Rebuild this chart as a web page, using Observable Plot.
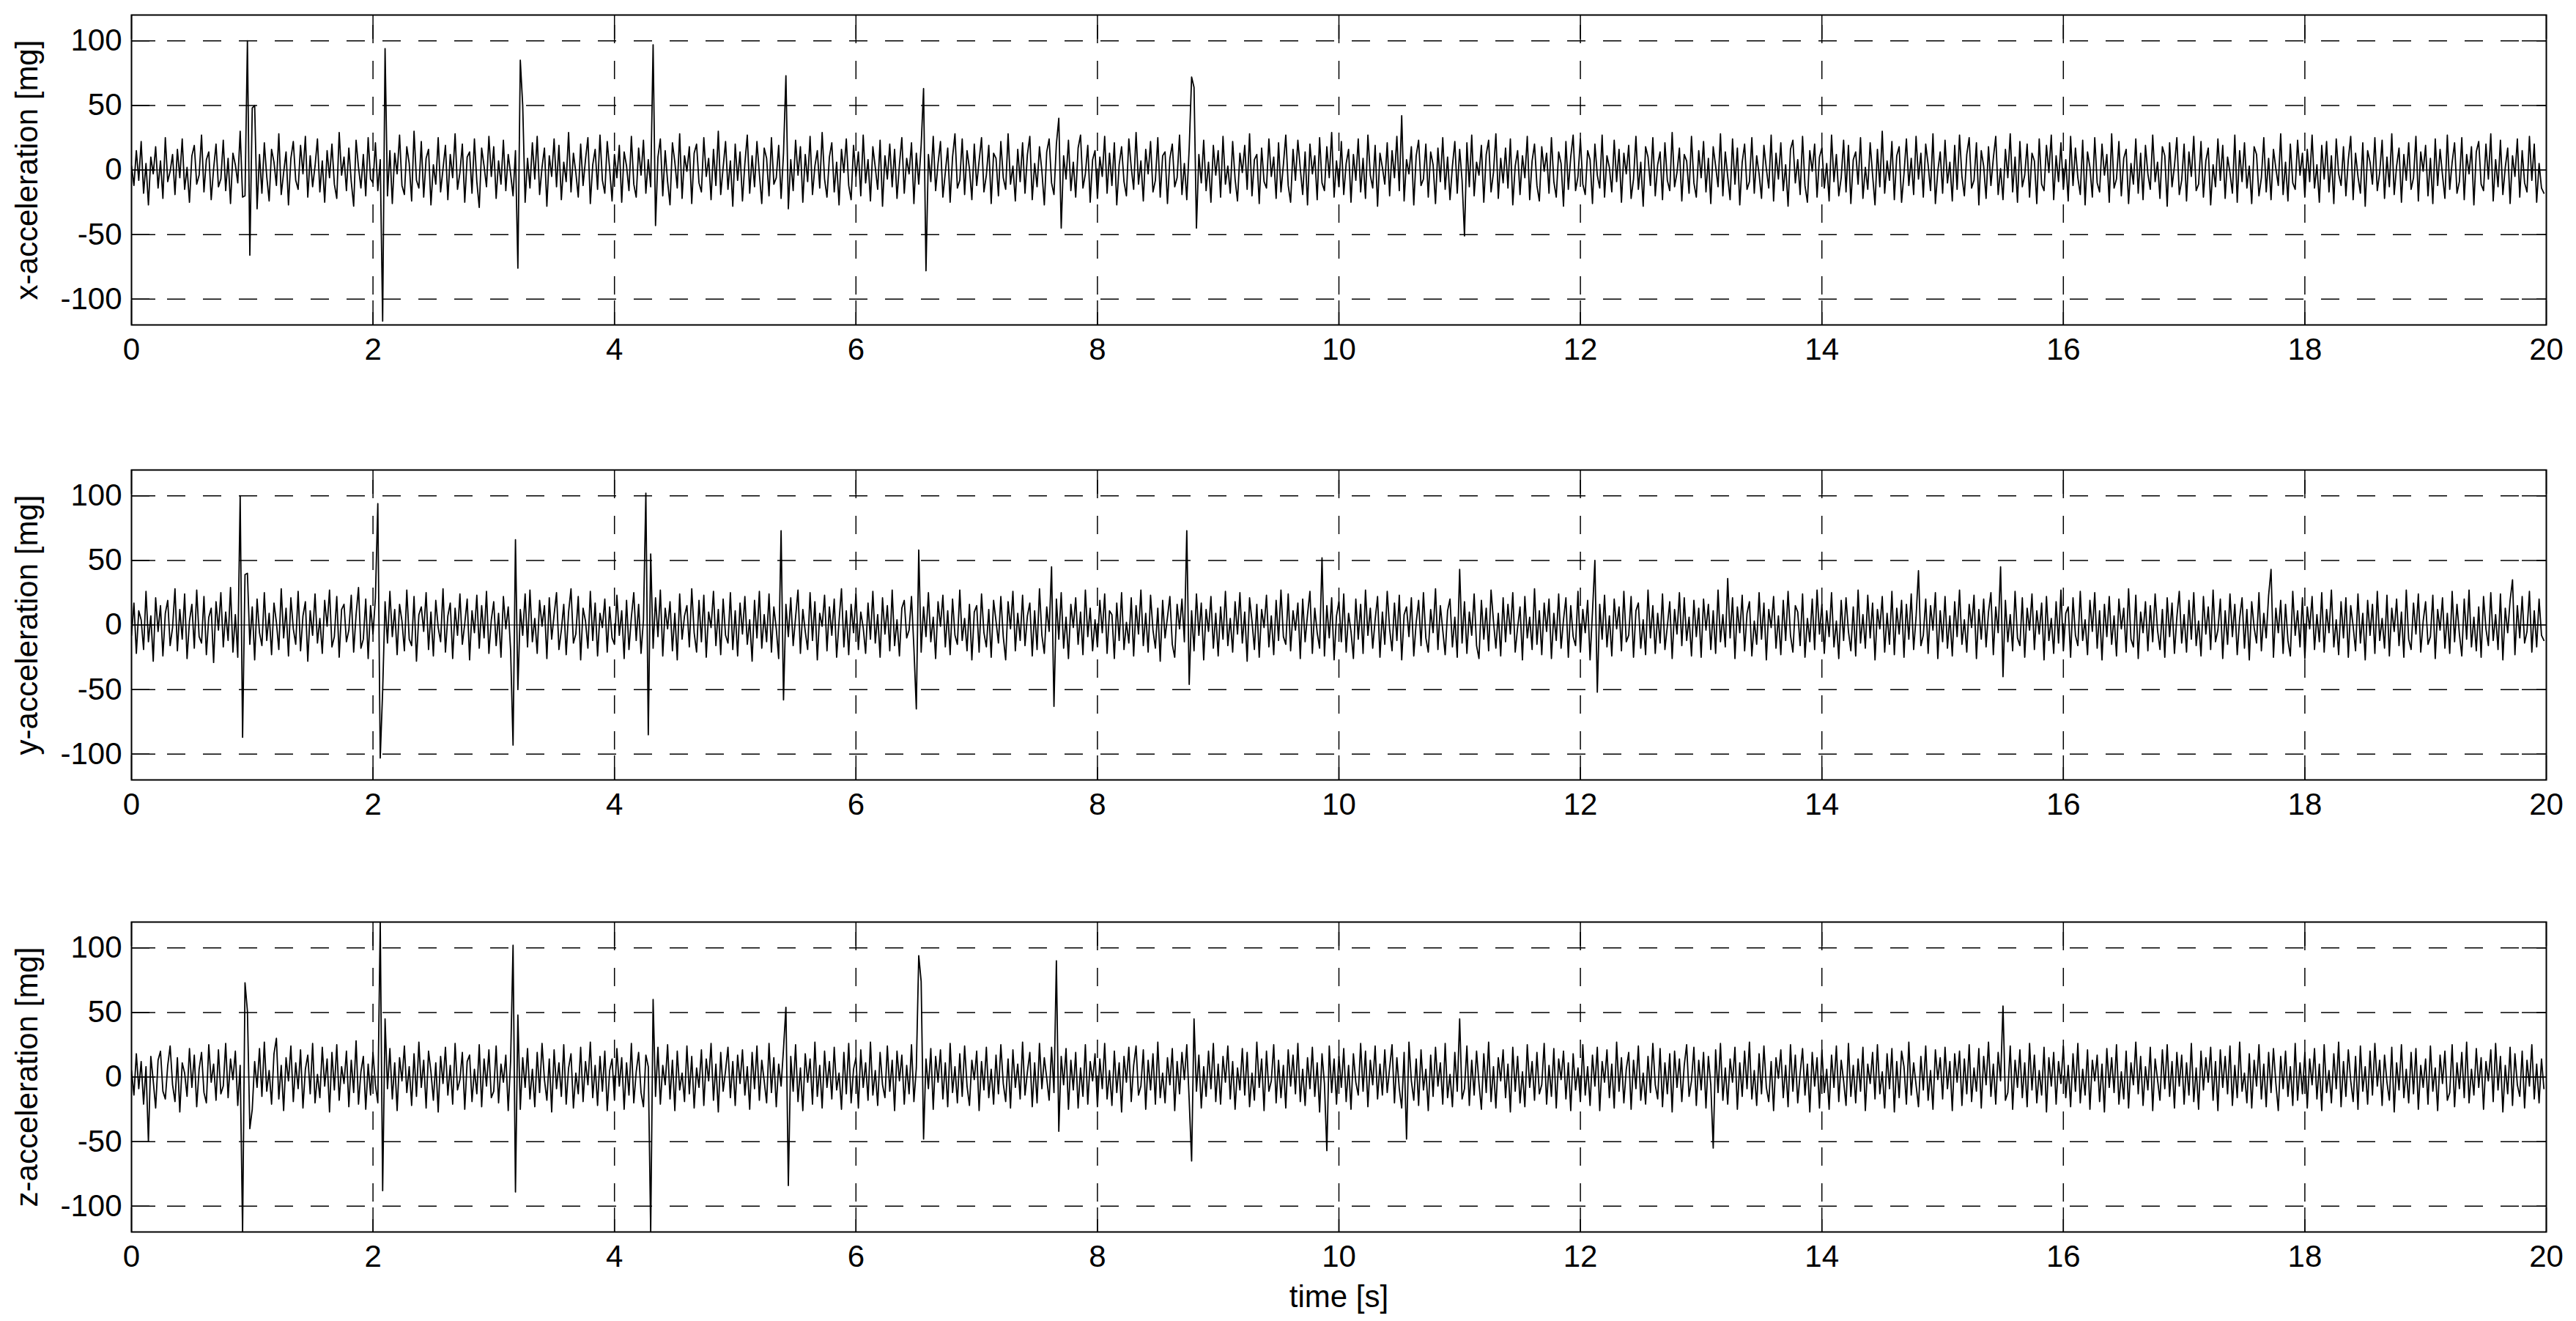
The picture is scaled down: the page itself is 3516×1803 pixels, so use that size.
<!DOCTYPE html>
<html>
<head>
<meta charset="utf-8">
<script src="https://cdn.jsdelivr.net/npm/d3@7"></script>
<script src="https://cdn.jsdelivr.net/npm/@observablehq/plot@0.6"></script>
<style>
  html, body { margin: 0; padding: 0; background: #fff; }
  #chart { position: relative; width: 3516px; height: 1803px; background: #fff; }
</style>
</head>
<body>
<div id="chart"></div>
<script>
// ---- data (50 samples per second over 20 s) ----
const duration = 20;
const timeTicks = [0, 2, 4, 6, 8, 10, 12, 14, 16, 18, 20];
const timeGrid = [2, 4, 6, 8, 10, 12, 14, 16, 18];
const accTicks = [-100, -50, 0, 50, 100];
const accGrid = [-100, -50, 50, 100];
const panelLabels = ["x-acceleration [mg]", "y-acceleration [mg]", "z-acceleration [mg]"];
const timeLabel = "time [s]";

const xAcc = [
3,-12,15,-8,22,-18,5,-27,10,-3,18,-14,7,-22,25,-9,-1,12,-19,16,-6,24,-15,2,-25,11,19,-11,-4,27,-17,8,14,-23,1,20,-13,-7,23,-16,9,-26,13,4,-10,30,-21,-20,100,-66,
48,50,-30,12,-18,21,-5,-24,16,6,-12,28,-19,-2,14,-27,9,22,-8,-15,19,-3,26,-21,11,-13,3,24,-17,7,-25,15,-6,20,-11,-22,29,-4,10,-16,17,-9,-28,23,2,-14,12,-20,25,-7,
-10,21,-16,8,-117,94,-20,15,-26,13,-3,27,-12,-19,18,5,-24,30,-8,-14,22,-21,9,16,-27,4,-11,25,-17,1,19,-23,12,-6,28,-15,-2,20,-25,10,14,-18,24,-9,-29,17,3,-13,26,-5,
18,-22,7,-11,23,-16,12,-3,-20,15,-76,85,50,-25,9,-14,21,-7,26,-19,2,17,-28,11,-5,24,-13,19,-23,6,-9,29,-17,13,-2,-21,20,-12,8,25,-26,4,16,-15,27,-8,-18,22,1,-24,
12,-6,19,-25,14,3,-16,26,-11,-21,17,-4,23,-18,8,-13,97,-43,10,24,-20,15,-9,-27,21,6,-14,28,-22,11,-1,18,-26,13,20,-10,-17,25,-5,9,-23,16,-12,30,-19,2,22,-15,7,-28,
20,-8,14,-24,5,27,-18,11,-13,22,-3,-26,17,9,-20,25,-11,-6,19,-22,13,73,-30,8,-16,23,-4,18,-25,12,-9,26,-19,3,15,-14,29,-7,-21,10,21,-17,6,-27,16,-2,24,-12,-23,19,
-5,14,-20,27,-10,8,-24,18,2,-15,23,-28,11,-7,20,-13,16,-22,4,25,-18,9,-3,21,-26,13,-11,19,63,-78,12,-9,26,-16,5,22,-21,-2,17,-25,10,28,-14,-8,24,-19,15,1,-23,20,
-12,7,25,-17,-4,19,-26,13,9,-20,22,-6,-15,28,-11,3,-24,16,-9,21,-18,12,26,-23,5,-13,18,-1,-27,14,24,-10,-19,20,40,-45,11,-7,23,-16,6,-21,17,27,-14,-3,19,-25,8,15,
-22,10,-5,26,-18,13,-12,21,-27,4,18,-9,-20,24,2,-15,29,-11,7,-24,16,-3,22,-17,-8,25,-21,11,14,-26,9,20,-13,-6,27,-19,5,-23,17,72,64,-45,12,-10,23,-16,6,-25,19,-4,
15,-21,26,-11,3,-18,22,-7,-24,13,-2,19,-15,28,-20,8,12,-26,17,-9,-14,24,-5,10,-22,21,-17,4,27,-12,-25,16,-8,23,1,-19,14,-27,20,-3,11,-23,25,-10,-16,18,-6,29,-21,7,
-13,22,-19,5,16,-25,12,-8,24,-17,9,-22,27,-4,-14,19,-28,13,2,-11,21,-20,15,-6,26,-16,42,-24,8,-3,18,-27,11,23,-12,-7,20,-21,14,4,-26,17,-9,25,-15,10,-23,3,22,-18,
16,-8,-51,21,-13,27,-20,6,-4,19,-25,12,23,-17,-2,28,-22,9,-10,17,-14,24,-27,3,15,-19,11,-6,26,-23,7,20,-12,-24,18,-1,13,-18,25,-9,-21,14,5,-28,22,-15,10,27,-16,-5,
24,-11,-19,15,8,-26,20,-4,-14,27,-21,11,2,-17,23,-9,16,-25,13,-3,19,-22,-7,26,-15,6,-28,18,10,-12,25,-20,4,14,-23,21,-8,-16,29,-13,-2,17,-24,12,7,-18,26,-10,-21,15,
-6,22,-17,9,-26,18,3,-13,28,-20,14,-5,-23,24,-11,17,-27,6,20,-15,-9,25,-18,11,-3,-22,19,1,-14,27,-24,13,-7,21,-16,4,-28,16,23,-10,8,-19,26,-12,-25,15,-1,20,-21,10,
17,-14,5,-24,27,-9,12,-20,-6,23,-17,19,-26,8,14,-11,25,-22,2,-15,21,-4,-27,16,-13,30,-18,7,-8,22,-23,11,18,-25,-3,24,-12,9,-19,26,-7,13,-21,20,4,-16,28,-26,-1,14,
-18,23,-10,6,-24,19,-15,27,-5,-20,12,25,-14,-8,21,-27,15,3,-22,18,-12,9,26,-19,1,-23,16,-6,28,-17,10,-25,22,-13,-4,20,-21,13,7,-26,24,-11,-16,19,-2,27,-23,11,-9,21,
-15,8,-24,26,-12,17,-6,-19,23,-27,14,2,-21,25,-10,-17,20,-4,12,-25,28,-14,-7,22,-20,9,16,-26,5,-11,24,-18,13,-23,19,-3,-15,27,-9,6,-22,18,11,-28,21,-13,3,25,-19,-8,
20,-24,14,-5,26,-16,-11,22,-21,7,17,-27,4,-13,24,-8,19,-22,10,-2,-18,27,-25,15,-9,21,-14,3,-26,18,12,-20,-6,25,-17,9,-23,16,1,-12,28,-19,6,-24,20,-10,-15,23,-4,13,
-21,16,-9,27,-14,4,-25,19,-7,22,-17,11,-26,24,-3,-12,18,-20,8,26,-23,13,-5,-18,21,-28,15,6,-11,25,-16,-2,23,-22,10,-13,28,-19,3,17,-25,12,-8,21,-15,-6,26,-24,14,-1,
19,-20,9,-26,24,-12,16,-4,-22,27,-15,6,21,-18,-9,25,-23,12,-3,18,-27,14,22,-11,-16,20,-7,28,-24,8,-13,23,-19,2,17,-26,11,-5,24,-21,15,-10,-17,26,-8,20,-25,5,-14,-18
];

const yAcc = [
-8,17,-22,11,4,-19,26,-13,7,-28,21,-5,15,-24,9,19,-16,-2,28,-20,12,-11,24,-26,3,16,-18,27,-9,-14,22,-23,6,13,-29,18,-4,25,-17,10,-12,29,-21,8,-25,100,-87,39,40,-15,
14,-27,20,-6,-16,25,-12,9,-23,17,2,-19,28,-10,13,-24,21,-3,-15,26,-20,7,18,-28,11,-8,24,-14,5,-22,19,-1,27,-17,-9,22,-25,12,16,-13,-4,23,-21,8,29,-18,-11,20,-26,15,
-7,21,94,-103,-51,18,-14,26,-9,12,-23,16,3,-20,27,-11,-16,22,-28,8,14,-5,25,-19,10,-24,19,-2,-13,28,-21,7,17,-26,13,-8,24,-15,1,20,-27,11,-6,23,-18,15,-10,26,-22,4,
18,-16,9,-25,22,-3,14,-20,-93,66,-50,12,-8,24,-17,27,-13,5,-22,19,-1,15,-26,21,-11,8,25,-19,-4,16,-23,10,28,-14,-7,22,-27,13,3,-18,26,-12,17,-24,9,-2,20,-21,14,-10,
-15,23,-8,11,-26,19,-19,6,25,-12,16,-22,4,102,-85,55,-18,21,-9,27,-24,13,-3,18,-20,9,-27,24,-11,7,15,-17,28,-6,-21,19,-13,23,-25,10,-2,26,-16,12,-23,20,-8,-14,25,-19,
11,-24,17,-7,22,-15,4,-28,19,-10,26,-18,8,-13,24,-21,14,-3,-26,73,-58,16,-9,21,-16,6,27,-22,12,-5,-19,25,-12,18,-27,9,-1,23,-20,14,-8,20,-25,3,28,-17,11,-23,16,-6,
24,-19,10,-2,-22,17,-11,26,-14,8,-25,21,-7,15,-20,27,-16,4,-24,13,19,-10,-4,22,-18,-65,58,-21,14,-9,25,-13,6,-26,18,-1,23,-17,11,-23,20,-8,-15,27,-12,5,-20,16,-27,10,
15,-21,24,-6,-17,12,-25,19,3,-14,22,-9,-27,18,-3,26,-20,9,-12,23,-16,7,17,-24,11,-19,28,-8,-22,14,-5,45,-63,20,-11,25,-18,6,-26,16,-2,21,-15,10,-23,27,-9,13,-20,4,
-17,19,-6,24,-22,11,8,-26,17,-12,25,-19,2,-14,21,-24,15,-7,27,-16,9,-21,23,-4,-18,13,-28,19,-10,6,22,-15,-25,16,-3,20,-13,73,-46,11,-20,24,-8,17,-27,12,-5,22,-18,9,
-24,14,-11,26,-16,5,-21,18,-7,25,-14,10,-28,21,3,-19,16,-25,12,-2,23,-17,7,-23,19,-12,27,-9,-15,24,-20,11,-4,17,-26,20,-13,8,26,-22,13,-6,-18,52,-24,15,-10,21,-27,7,
18,-13,24,-21,9,-5,-26,20,-11,16,-22,27,-8,13,-18,4,22,-25,10,-15,26,-3,-20,17,-12,23,-27,8,14,-9,21,-24,2,19,-16,25,-10,-21,12,-6,28,-19,15,-4,-23,11,20,-17,6,-25,
43,-14,18,-22,10,-8,24,-16,-26,19,-11,13,-20,27,3,-18,9,-24,21,-13,16,-7,25,-21,-2,14,-27,22,-10,6,-19,28,-15,11,-23,17,-5,20,-26,9,-12,24,-18,4,21,-25,15,-9,-16,26,
-21,12,-6,19,-27,10,50,-52,16,-11,23,-17,7,-24,20,-3,14,-20,26,-13,-8,22,-25,11,17,-18,4,-23,27,-10,15,-22,9,-14,24,-19,-1,18,-26,12,-7,25,-16,21,-12,6,-24,19,-9,13,
-25,20,-4,16,-19,11,-22,27,-13,8,-17,36,-10,21,-26,14,-6,23,-20,9,18,-24,3,-15,25,-11,17,-27,12,-2,22,-18,7,-23,19,-12,26,-8,-21,15,10,-16,24,-25,5,-13,20,-19,27,-7,
16,-22,11,-9,25,-17,3,-26,19,-12,21,-5,-20,14,-24,27,-14,8,-18,23,-10,17,-27,12,-3,22,-21,9,-15,26,-23,13,-7,19,-25,16,-11,24,-19,6,42,-16,-8,20,-22,15,-4,25,-26,11,
-13,22,-18,7,-24,18,-9,27,-15,4,-21,16,-2,23,-26,12,-11,20,-17,10,25,-23,14,-6,45,-40,19,-13,8,-20,26,-10,-16,21,-25,13,-4,24,-19,11,-7,17,-27,22,-12,5,-22,18,-14,27,
-20,9,14,-25,21,-8,-16,26,-12,4,-23,19,-5,25,-18,11,-27,16,-9,22,-15,7,-24,20,-3,13,-21,28,-11,-17,23,-26,10,-6,18,-20,15,-13,24,-4,-19,12,-25,21,-9,17,-22,6,26,-14,
8,-21,19,-11,25,-16,3,-24,22,-7,14,-19,27,-13,-4,20,-26,11,-15,24,-9,16,-23,5,21,-18,12,-27,18,-2,-14,25,-20,9,-10,23,43,-25,13,-6,19,-22,16,-12,-24,26,-8,11,-17,21,
-26,14,-3,22,-19,8,-13,25,-21,12,-6,27,-17,4,-23,18,-10,21,-25,15,-1,-20,24,-14,9,-27,19,-8,16,-22,26,-12,5,-18,23,-24,13,-5,20,-16,10,-25,27,-11,-19,17,-7,24,-21,3,
18,-15,-9,23,-26,12,-4,21,-18,9,-22,26,-13,16,-7,-24,20,-11,27,-17,6,-20,14,-25,22,-3,-16,25,-12,8,-19,24,-27,13,-6,19,35,-23,15,-10,22,-14,-5,26,-21,11,-17,20,-8,-12
];

const zAcc = [
5,-14,18,-9,12,-21,8,-50,16,-3,-24,13,20,-11,-17,9,24,-6,-19,15,-27,11,3,-15,22,-8,17,-23,6,19,-12,-20,25,-4,10,-18,21,-13,-7,26,-16,14,-2,20,-22,9,-120,73,51,-40,
-25,12,-8,22,-15,27,-11,5,-21,18,30,-17,9,-26,15,-3,24,-19,11,-9,21,-24,6,17,-13,26,-20,2,-16,23,-7,14,-27,19,-10,25,-18,8,-5,20,-23,13,-12,28,-21,4,16,-25,10,-14,
19,-6,-20,120,-88,45,-9,22,-17,11,-26,15,-3,24,-12,8,-22,18,-15,27,-8,13,-24,20,4,-18,11,-27,16,-5,23,-14,9,-21,26,-10,-2,19,-25,12,17,-19,6,-13,25,-23,14,-7,21,-16,
-11,24,-20,10,-4,17,-26,13,102,-89,48,-25,15,-8,22,-17,6,-23,19,-12,26,-2,-18,14,-27,21,-9,11,-15,25,-21,7,18,-24,3,-13,23,-19,12,-6,27,-16,9,-22,16,-11,20,-26,5,14,
-18,22,-7,15,-25,11,-14,26,-20,4,19,-12,-23,17,8,-120,60,-15,23,-21,9,-6,25,-17,13,-26,20,-10,3,-19,24,-13,16,-24,7,-8,21,-22,14,-3,26,-18,10,-27,19,-11,5,23,-16,12,
-22,17,-5,21,-14,8,-25,19,-9,24,-18,13,-3,-20,26,-12,15,-23,10,-7,22,54,-84,16,-11,25,-19,7,-26,18,-4,14,-21,27,-15,9,-24,20,-8,12,-17,23,-10,3,-25,19,-13,26,-20,6,
15,-24,21,-8,11,-18,27,-14,5,-22,19,-6,-16,24,-11,13,-26,20,-3,17,-21,9,-13,25,-19,7,94,74,-48,14,-9,22,-25,16,-4,21,-17,11,-23,26,-12,8,-20,18,-15,24,-7,-22,13,-2,
20,-26,12,-10,23,-16,6,-21,17,-13,25,-5,-19,14,-24,21,-8,10,-17,27,-14,4,19,-23,11,-20,26,-9,15,-1,-18,23,-12,90,-42,16,-6,22,-25,13,-10,19,-24,7,-15,25,-21,12,-3,18,
-23,14,-9,26,-17,5,-22,20,-12,11,-27,16,-4,23,-19,9,24,-14,-7,21,-25,13,-10,18,-21,27,-16,3,-20,15,-6,22,-26,12,-13,19,-2,25,-18,-65,45,-11,17,-24,8,-15,20,-9,26,-19,
10,-21,16,-4,24,-17,12,-25,7,-10,22,-14,19,-23,3,-18,27,-8,14,-26,20,-11,-3,25,-20,13,-16,9,-24,21,-7,17,-13,26,-19,6,-22,15,-9,23,-15,11,-27,18,-5,-57,24,-12,14,-21,
16,-8,22,-19,9,-25,18,-4,-14,26,-11,20,-23,13,-6,24,-17,10,-14,21,-12,7,25,-20,15,-9,-24,19,-48,27,-3,-18,14,-22,21,-10,6,-26,17,-15,23,-7,11,-21,26,-16,2,-23,19,-11,
45,-17,-9,24,-22,13,-14,20,-5,-25,18,-12,27,-19,8,-24,15,-3,21,-16,10,-27,23,-11,16,-20,4,-23,25,-8,12,-18,19,-13,-6,26,-21,9,-15,22,-24,14,-2,20,-17,11,-26,18,-10,7,
-19,25,-14,8,-22,17,-7,23,-26,12,-4,21,-16,10,-24,27,-11,15,-20,6,19,-25,13,-9,24,-18,3,-21,16,-12,26,-6,-17,22,-23,11,-13,18,-27,20,-8,14,-19,9,25,-15,-3,23,-22,13,
-10,19,-24,16,-6,-55,21,-12,26,-18,7,-21,14,-4,23,-25,11,-15,20,-9,27,-17,5,-22,18,-13,24,-8,-19,12,-26,15,-1,21,-16,9,-23,25,-11,17,-20,3,22,-14,10,-27,19,-7,15,-24,
21,-12,6,-25,17,-8,24,-19,13,-3,-22,26,-15,9,-20,14,-11,23,-26,10,-5,19,-17,25,-13,4,-24,18,-9,22,-27,12,-16,20,8,-21,27,-14,11,-6,-23,16,-10,24,-18,5,-25,21,-2,15,
-17,23,-9,12,-26,18,-4,20,-22,14,-13,25,-19,7,-11,22,-24,16,-6,27,-15,10,-21,19,-3,55,-18,-12,24,-25,13,-8,21,-16,11,-23,26,-10,17,-20,5,-14,23,-27,15,-7,19,-21,12,-5,
24,-16,9,-23,18,-11,26,-20,6,-14,21,-25,13,-3,17,-19,10,-27,22,-8,15,-12,25,-21,4,-17,20,-24,11,-6,27,-13,16,-22,8,-10,23,-26,14,-2,-18,21,-9,25,-15,12,-24,19,-7,17,
-21,11,-14,26,-19,7,-25,20,-10,15,-4,23,-18,12,-26,21,-8,16,-13,24,-22,9,-16,27,-11,3,-20,18,-24,13,-7,25,-17,10,-23,19,-12,22,-5,-26,16,-9,20,-15,8,-22,26,-18,11,-13,
19,-24,14,-6,22,-17,10,-26,25,-12,5,-20,18,-9,27,-23,12,-15,21,-3,-19,16,-25,24,-11,8,-21,20,-14,26,-7,13,-22,17,-4,-18,23,-27,11,-10,25,-16,6,-20,19,-13,22,-25,9,-8,
14,-21,24,-11,7,-26,17,-5,20,-18,-12,25,-23,11,-9,19,-16,27,-20,6,-14,22,-8,15,-25,12,-3,21,-19,26,-10,16,-27,9,-13,23,-22,18,-6,-15,20,-24,13,-7,25,-17,10,-20,14,-9
];

// ---- layout (pixels) ----
const W = 3516;
const mLeft = 179, mRight = 41, mTop = 20, innerH = 423;
const innerW = W - mLeft - mRight;
const panelTops = [0, 621, 1238];
const FONT = "'Liberation Sans', Arial, Helvetica, sans-serif";
const tickLen = 33;
const labelCenterFromAxis = 142;

function makePanel(values, label, last) {
  const data = values.map((v, i) => ({t: i * duration / values.length, v}));
  const yPer = 240 / innerH, xPer = duration / innerW;
  const mBottom = last ? 124 : 60;
  const marks = [
    Plot.ruleY(accGrid, {stroke: "black", strokeWidth: 1.5, strokeDasharray: "25,24"}),
    Plot.ruleX(timeGrid, {stroke: "black", strokeWidth: 1.5, strokeDasharray: "25,24", strokeDashoffset: 35}),
    Plot.ruleY([0], {stroke: "black", strokeWidth: 1.2}),
    // inward tick marks
    Plot.ruleX(timeTicks, {y1: -120, y2: -120 + tickLen * yPer, stroke: "black", strokeWidth: 1.5}),
    Plot.ruleX(timeTicks, {y1: 120 - tickLen * yPer, y2: 120, stroke: "black", strokeWidth: 1.5}),
    Plot.ruleY(accTicks, {x1: 0, x2: tickLen * xPer, stroke: "black", strokeWidth: 1.5}),
    Plot.ruleY(accTicks, {x1: duration - tickLen * xPer, x2: duration, stroke: "black", strokeWidth: 1.5}),
    Plot.line(data, {x: "t", y: "v", stroke: "black", strokeWidth: 1.8, clip: true}),
    Plot.frame({stroke: "black", strokeWidth: 2}),
    Plot.text([label], {x: () => -labelCenterFromAxis * xPer, y: () => 0, text: d => d, rotate: -90, textAnchor: "middle", lineAnchor: "middle", fontSize: 42, fill: "black"})
  ];
  if (last) marks.push(Plot.text([timeLabel], {frameAnchor: "bottom", text: d => d, dy: 102, fontSize: 42, fill: "black"}));
  return Plot.plot({
    width: W,
    height: mTop + innerH + mBottom,
    marginLeft: mLeft, marginRight: mRight, marginTop: mTop, marginBottom: mBottom,
    style: {fontFamily: FONT, fontSize: "42px", color: "black", background: "transparent", overflow: "visible"},
    x: {domain: [0, duration], ticks: timeTicks, tickSize: 0, tickPadding: 18, tickFormat: d => String(d), label: null},
    y: {domain: [-120, 120], ticks: accTicks, tickSize: 0, tickPadding: 13, tickFormat: d => String(d), label: null},
    marks
  });
}

const chart = document.getElementById("chart");
[xAcc, yAcc, zAcc].forEach((vals, k) => {
  const el = makePanel(vals, panelLabels[k], k === 2);
  el.style.position = "absolute";
  el.style.left = "0px";
  el.style.top = panelTops[k] + "px";
  chart.appendChild(el);
});
</script>
</body>
</html>
